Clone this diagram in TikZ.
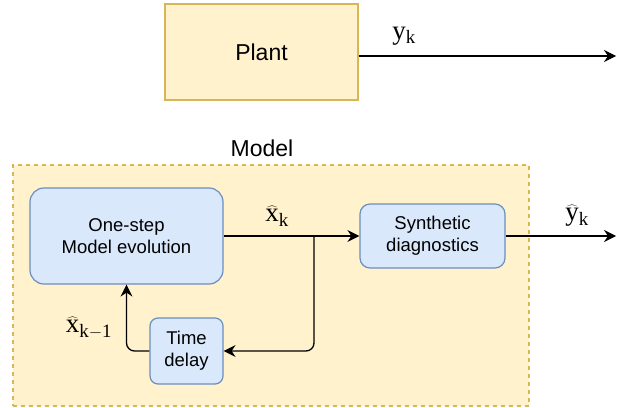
\documentclass[tikz,border=0pt]{standalone}
\usepackage{fontspec}
\setmainfont{Liberation Serif}
\setsansfont{Liberation Sans}
\usepackage{tikz}
\usetikzlibrary{arrows.meta,positioning}
\definecolor{plantfill}{HTML}{FFF2CC}
\definecolor{plantline}{HTML}{D6B656}
\definecolor{blockfill}{HTML}{DAE8FC}
\definecolor{blockline}{HTML}{6C8EBF}
\tikzset{
  plantbox/.style={rectangle,draw=plantline,fill=plantfill,line width=1.2pt,inner sep=0pt,
    minimum width=193pt,minimum height=96pt,font=\sffamily\fontsize{23}{27}\selectfont},
  block/.style={rectangle,rounded corners=#1,draw=blockline,fill=blockfill,line width=1.2pt,
    inner sep=0pt,align=center,font=\sffamily\fontsize{18.5}{22}\selectfont},
  block/.default=10pt,
  group/.style={rectangle,draw=plantline,fill=plantfill,dash pattern=on 4pt off 4pt,
    line width=1.3pt,inner sep=0pt},
  title/.style={font=\sffamily\fontsize{23}{27}\selectfont,inner sep=0pt},
  signal/.style={font=\fontsize{27}{30}\selectfont,inner sep=0pt},
  arrow/.style={-{Stealth[length=12pt,width=12pt,inset=4pt]},line width=1.3pt,draw=black}
}

\begin{document}
\begin{tikzpicture}[x=1pt,y=-1pt]
\useasboundingbox (0,0) rectangle (617,407);
% plant
\node[plantbox] (plant) at (261.5,52) {Plant};
\coordinate (yout) at (616,56);
\draw[arrow] (plant.east |- yout) -- (yout);
\node[signal] (ylabel) at (404,36) {$\mathrm{y}_{\mathrm{k}}$};
% model
\node[group,minimum width=516pt,minimum height=241pt] (model) at (271,285.5) {};
\node[title] (modeltitle) at (262,148) {Model};
\node[block=14pt,minimum width=193pt,minimum height=96pt] (onestep) at (126.5,236) {One-step\\Model evolution};
\node[block,minimum width=145pt,minimum height=64pt] (synth) at (432.5,236) {Synthetic\\diagnostics};
\node[block=8pt,minimum width=73pt,minimum height=66pt] (delay) at (186.5,351) {Time\\delay};
\coordinate (yhatout) at (616,236);
\coordinate (branch) at (314,236);
\draw[arrow] (onestep) -- (synth);
\draw[arrow] (synth) -- (yhatout);
\draw[arrow,rounded corners=8pt] (branch) |- (delay.east);
\draw[arrow,rounded corners=8pt] (delay.west) -| (onestep.south);
\node[signal] (xklabel) at (277,216) {$\widehat{\mathrm{x}}_{\mathrm{k}}$};
\node[signal] (yklabel) at (577,216) {$\widehat{\mathrm{y}}_{\mathrm{k}}$};
\node[signal] (xkmlabel) at (89,328) {$\widehat{\mathrm{x}}_{\mathrm{k-1}}$};
\end{tikzpicture}
\end{document}
